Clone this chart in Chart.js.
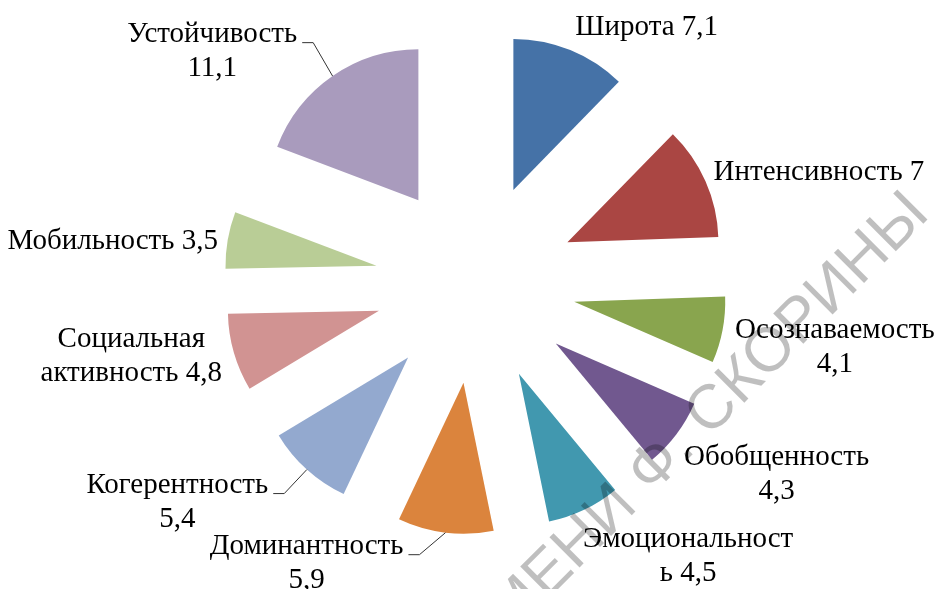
<!DOCTYPE html>
<html>
<head>
<meta charset="utf-8">
<script src="https://cdn.jsdelivr.net/npm/chart.js@4.4.1/dist/chart.umd.min.js"></script>
<style>
  html, body { margin: 0; padding: 0; background: #fff; }
  #wrap { width: 936px; height: 589px; position: relative; }
</style>
</head>
<body>
<div id="wrap"><canvas id="pieChart"></canvas></div>
<script>
// Данные диаграммы
const categories = ['Широта', 'Интенсивность', 'Осознаваемость', 'Обобщенность', 'Эмоциональность',
                    'Доминантность', 'Когерентность', 'Социальная активность', 'Мобильность', 'Устойчивость'];
const values = [7.1, 7, 4.1, 4.3, 4.5, 5.9, 5.4, 4.8, 3.5, 11.1];
const colors = ['#4572A7', '#AA4643', '#89A54E', '#71588F', '#4198AF',
                '#DB843D', '#93A9CF', '#D19392', '#B9CD96', '#A99BBD'];

// Раскладка подписей (сторона, смещение от внешней точки сектора, перенос строки, выноска)
const labelLayout = [
    { side: 'right', dx: 5,     dy: -15,   br: null, leader: false },
    { side: 'right', dx: 8,     dy: -1,    br: null, leader: false },
    { side: 'right', dx: 12.5,  dy: 8,     br: 14,   leader: false },
    { side: 'right', dx: 7.5,   dy: 31,    br: 12,   leader: false },
    { side: 'right', dx: -1,    dy: 37,    br: 14,   leader: false },
    { side: 'left',  dx: -42,   dy: 21,    br: 13,   leader: true },
    { side: 'left',  dx: -38.6, dy: 23,    br: 13,   leader: true },
    { side: 'left',  dx: -11.8, dy: -5.5,  br: 10,   leader: false },
    { side: 'left',  dx: -9.7,  dy: 9,     br: null, leader: false },
    { side: 'left',  dx: -35.4, dy: -34.4, br: 12,   leader: true }
];

const EXPLODE = 100.5;
const FONT = '29px "Liberation Serif", "Times New Roman", serif';
const LINE_H = 34;

const fmt = v => String(v).replace('.', ',');

// Раздвигаем сектора от центра
const explodePlugin = {
    id: 'explode',
    afterDatasetsUpdate(chart) {
        chart.getDatasetMeta(0).data.forEach(arc => {
            const mid = (arc.startAngle + arc.endAngle) / 2;
            arc.x += EXPLODE * Math.cos(mid);
            arc.y += EXPLODE * Math.sin(mid);
        });
    }
};

// Подписи с выносками
const labelPlugin = {
    id: 'outLabels',
    afterDatasetsDraw(chart) {
        const ctx = chart.ctx;
        ctx.save();
        ctx.font = FONT;
        ctx.fillStyle = '#000';
        ctx.textBaseline = 'alphabetic';
        chart.getDatasetMeta(0).data.forEach((arc, i) => {
            const lay = labelLayout[i];
            const mid = (arc.startAngle + arc.endAngle) / 2;
            const ax = arc.x + arc.outerRadius * Math.cos(mid);
            const ay = arc.y + arc.outerRadius * Math.sin(mid);
            const full = categories[i] + ' ' + fmt(values[i]);
            const lines = lay.br ? [full.slice(0, lay.br).trim(), full.slice(lay.br).trim()] : [full];
            const w = Math.max(...lines.map(l => ctx.measureText(l).width));
            const left = lay.side === 'right' ? ax + lay.dx : ax + lay.dx - w;
            const cx = left + w / 2;
            const base = ay + lay.dy;
            ctx.textAlign = 'center';
            lines.forEach((l, k) => ctx.fillText(l, cx, base + k * LINE_H));

            if (lay.leader) {
                const w0 = ctx.measureText(lines[0]).width;
                const endX = cx + w0 / 2;
                ctx.beginPath();
                ctx.strokeStyle = '#333';
                ctx.lineWidth = 1;
                ctx.moveTo(endX + 5, base + 1);
                ctx.lineTo(endX + 16, base + 1);
                ctx.lineTo(ax, ay);
                ctx.stroke();
            }
        });
        ctx.restore();
    }
};

// Водяной знак
const watermarkPlugin = {
    id: 'watermark',
    afterDraw(chart) {
        const ctx = chart.ctx;
        ctx.save();
        ctx.translate(931, 216);
        ctx.rotate(-Math.PI / 4);
        ctx.font = '62px "Liberation Sans", Arial, sans-serif';
        ctx.fillStyle = 'rgba(0,0,0,0.25)';
        ctx.textAlign = 'right';
        ctx.textBaseline = 'alphabetic';
        ctx.fillText('ИМЕНИ Ф. СКОРИНЫ', 0, 0);
        ctx.restore();
    }
};

new Chart(document.getElementById('pieChart'), {
    type: 'pie',
    data: {
        labels: categories,
        datasets: [{
            data: values,
            backgroundColor: colors,
            borderWidth: 0,
            radius: 151
        }]
    },
    options: {
        responsive: true,
        maintainAspectRatio: false,
        animation: false,
        events: [],
        layout: { padding: { left: 15, right: 0, top: 0, bottom: 23 } },
        plugins: {
            legend: { display: false },
            tooltip: { enabled: false }
        }
    },
    plugins: [explodePlugin, labelPlugin, watermarkPlugin]
});
</script>
</body>
</html>
